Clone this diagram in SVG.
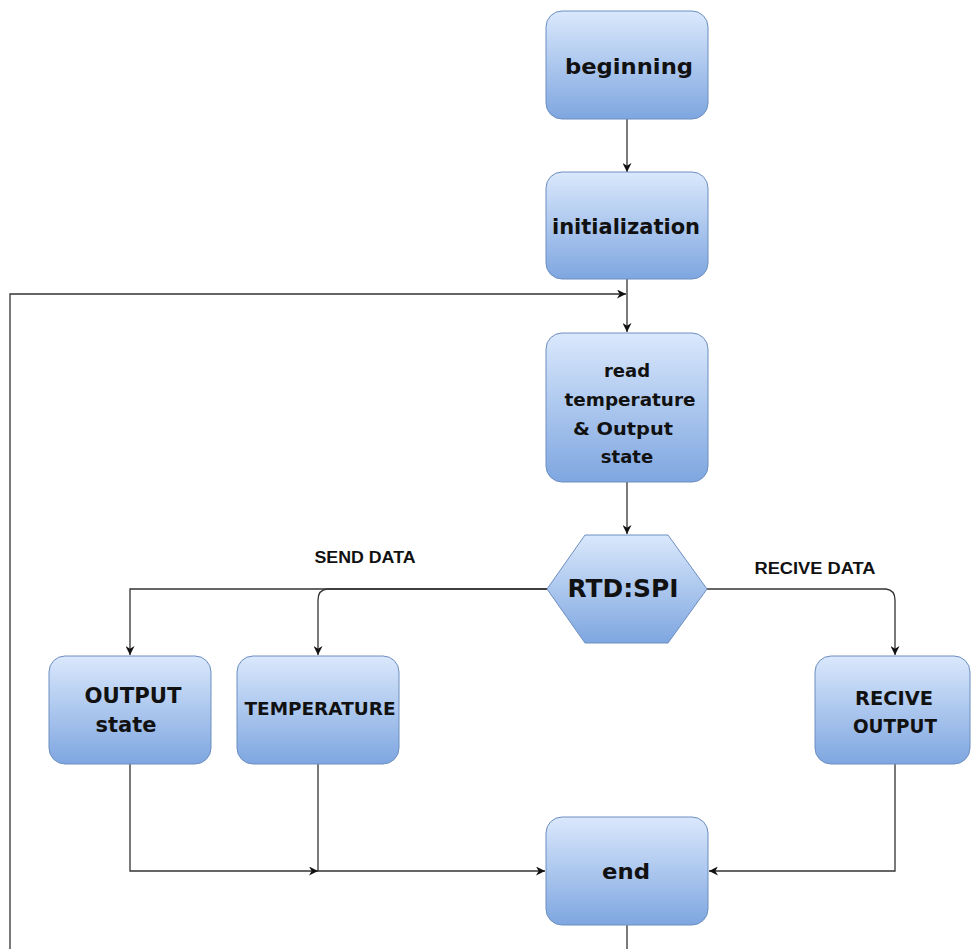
<svg xmlns="http://www.w3.org/2000/svg" width="971" height="949" viewBox="0 0 971 949">
  <defs>
    <linearGradient id="boxFill" x1="0" y1="0" x2="0" y2="1">
      <stop offset="0" stop-color="#dae8fc"/>
      <stop offset="1" stop-color="#7ea6e0"/>
    </linearGradient>
    <marker id="arrow" viewBox="0 0 10 10" refX="10" refY="5" markerWidth="9" markerHeight="9" markerUnits="userSpaceOnUse" orient="auto">
      <path d="M0,0 L10,5 L0,10 L3,5 Z" fill="#111"/>
    </marker>
    <style>
      .box { fill: url(#boxFill); stroke: #6c8ebf; stroke-width: 1; }
      .lbl { font-family: "DejaVu Sans", Verdana, sans-serif; font-weight: bold; fill: #111; text-anchor: middle; }
      .edge { fill: none; stroke: #333; stroke-width: 1.3; }
      .elbl { font-family: "Liberation Sans", Arial, sans-serif; font-weight: bold; font-size: 16px; fill: #111; text-anchor: middle; }
    </style>
  </defs>
  <rect width="971" height="949" fill="#fff"/>

  <g id="connectors">
    <path class="edge" d="M627,119 V172" marker-end="url(#arrow)"/>
    <path class="edge" d="M627,279 V332" marker-end="url(#arrow)"/>
    <path class="edge" d="M10,949 V294 H626" marker-end="url(#arrow)"/>
    <path class="edge" d="M627,482 V534" marker-end="url(#arrow)"/>
    <path class="edge" d="M547,589 H130 V655" marker-end="url(#arrow)"/>
    <path class="edge" d="M547,589 H327 Q318,590 318,600 V655" marker-end="url(#arrow)"/>
    <path class="edge" d="M707,589 H886 Q895,590 895,600 V655" marker-end="url(#arrow)"/>
    <path class="edge" d="M130,764 V871 H318" marker-end="url(#arrow)"/>
    <path class="edge" d="M318,764 V871 H545" marker-end="url(#arrow)"/>
    <path class="edge" d="M895,764 V871 H709" marker-end="url(#arrow)"/>
    <path class="edge" d="M627,925 V949"/>
    <text class="elbl" x="365" y="563" textLength="101" lengthAdjust="spacingAndGlyphs">SEND DATA</text>
    <text class="elbl" x="815" y="574" textLength="121" lengthAdjust="spacingAndGlyphs">RECIVE DATA</text>
  </g>

  <g id="beginning">
    <rect class="box" x="546" y="11" width="162" height="108" rx="16"/>
    <text class="lbl" x="629" y="74" font-size="22" textLength="128" lengthAdjust="spacingAndGlyphs">beginning</text>
  </g>

  <g id="initialization">
    <rect class="box" x="546" y="172" width="162" height="107" rx="16"/>
    <text class="lbl" x="626" y="234" font-size="21" textLength="148" lengthAdjust="spacingAndGlyphs">initialization</text>
  </g>

  <g id="read-temperature">
    <rect class="box" x="546" y="333" width="162" height="149" rx="16"/>
    <text class="lbl" x="627" y="377" font-size="18">read</text>
    <text class="lbl" x="630" y="406" font-size="18" textLength="131" lengthAdjust="spacingAndGlyphs">temperature</text>
    <text class="lbl" x="623" y="435" font-size="18" textLength="100" lengthAdjust="spacingAndGlyphs">&amp; Output</text>
    <text class="lbl" x="627" y="463" font-size="18">state</text>
  </g>

  <g id="rtd-spi">
    <polygon class="box" points="547,589 585,535 668,535 707,589 668,643 585,643"/>
    <text class="lbl" x="623" y="597" font-size="24" textLength="111" lengthAdjust="spacingAndGlyphs">RTD:SPI</text>
  </g>

  <g id="output-state">
    <rect class="box" x="49" y="656" width="162" height="108" rx="16"/>
    <text class="lbl" x="133" y="703" font-size="21" textLength="97" lengthAdjust="spacingAndGlyphs">OUTPUT</text>
    <text class="lbl" x="126" y="732" font-size="21">state</text>
  </g>

  <g id="temperature">
    <rect class="box" x="237" y="656" width="162" height="108" rx="16"/>
    <text class="lbl" x="320" y="715" font-size="18" textLength="151" lengthAdjust="spacingAndGlyphs">TEMPERATURE</text>
  </g>

  <g id="recive-output">
    <rect class="box" x="815" y="656" width="155" height="108" rx="16"/>
    <text class="lbl" x="894" y="705" font-size="19" textLength="78" lengthAdjust="spacingAndGlyphs">RECIVE</text>
    <text class="lbl" x="895" y="733" font-size="19" textLength="84" lengthAdjust="spacingAndGlyphs">OUTPUT</text>
  </g>

  <g id="end">
    <rect class="box" x="546" y="817" width="162" height="108" rx="16"/>
    <text class="lbl" x="626" y="879" font-size="22" textLength="48" lengthAdjust="spacingAndGlyphs">end</text>
  </g>
</svg>
